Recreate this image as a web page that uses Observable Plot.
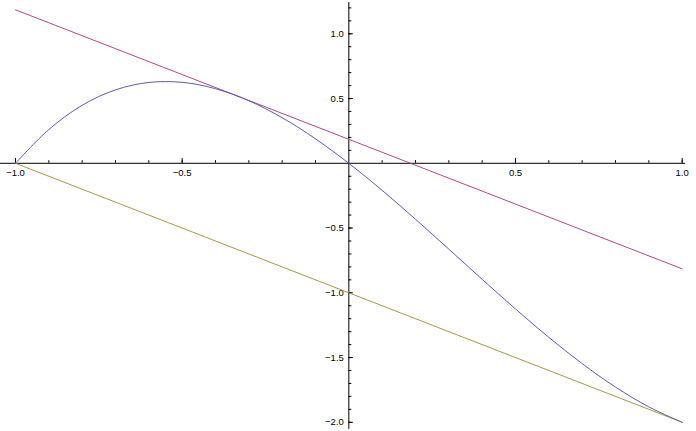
<!DOCTYPE html>
<html><head><meta charset="utf-8">
<script src="https://cdn.jsdelivr.net/npm/d3@7"></script>
<script src="https://cdn.jsdelivr.net/npm/@observablehq/plot@0.6"></script>
<style>body{margin:0;background:#fff}#chart svg{display:block}</style>
</head><body><div id="chart"></div>
<script>
// Curve values
const xValues = [-1, -0.9, -0.8, -0.7, -0.6, -0.5, -0.4, -0.3, -0.2, -0.1, 0, 0.1, 0.2, 0.3, 0.4, 0.5, 0.6, 0.7, 0.8, 0.9, 1];
const curveValues = [0, 0.261, 0.448, 0.567, 0.624, 0.625, 0.576, 0.483, 0.352, 0.189, 0, -0.209, -0.432, -0.663, -0.896, -1.125, -1.344, -1.547, -1.728, -1.881, -2];
const tangentX = [-1, 1];
const tangentValues = [1.185, -0.815];
const secantX = [-1, 1];
const secantValues = [0, -2];

// Ticks
const xMinorTicks = [-1.0,-0.9,-0.8,-0.7,-0.6,-0.5,-0.4,-0.3,-0.2,-0.1,0.1,0.2,0.3,0.4,0.5,0.6,0.7,0.8,0.9,1.0];
const xMajorTicks = [-1, -0.5, 0.5, 1];
const xTickLabels = ["\u22121.0", "\u22120.5", "0.5", "1.0"];
const yMinorTicks = [-2.0,-1.9,-1.8,-1.7,-1.6,-1.5,-1.4,-1.3,-1.2,-1.1,-1.0,-0.9,-0.8,-0.7,-0.6,-0.5,-0.4,-0.3,-0.2,-0.1,0.1,0.2,0.3,0.4,0.5,0.6,0.7,0.8,0.9,1.0,1.1,1.2];
const yMajorTicks = [-2, -1.5, -1, -0.5, 0.5, 1];
const yTickLabels = ["\u22122.0", "\u22121.5", "\u22121.0", "\u22120.5", "0.5", "1.0"];

const curve = xValues.map((x, i) => ({x, y: curveValues[i]}));
const tangent = tangentX.map((x, i) => ({x, y: tangentValues[i]}));
const secant = secantX.map((x, i) => ({x, y: secantValues[i]}));

const pxY = 129.5, pxX = 333.35;
const font = "'Liberation Sans', Arial, sans-serif";

const chart = Plot.plot({
  width: 696, height: 431,
  marginLeft: 0, marginRight: 0, marginTop: 0, marginBottom: 0,
  x: {domain: [-1.045, 1.043], axis: null},
  y: {domain: [-2.071, 1.257], axis: null},
  style: {background: "#fff", fontFamily: font},
  marks: [
    Plot.ruleY([0], {x1: -1.045, x2: 1.01, stroke: "#000", strokeWidth: 1}),
    Plot.ruleX([0], {y1: -2.054, y2: 1.241, stroke: "#000", strokeWidth: 1}),
    Plot.ruleX(xMinorTicks, {x: d => d, y1: 0, y2: 2.6 / pxY, stroke: "#000"}),
    Plot.ruleX(xMajorTicks, {x: d => d, y1: 0, y2: 4.7 / pxY, stroke: "#000"}),
    Plot.ruleY(yMinorTicks, {y: d => d, x1: 0, x2: 3 / pxX, stroke: "#000"}),
    Plot.ruleY(yMajorTicks, {y: d => d, x1: 0, x2: 4.5 / pxX, stroke: "#000"}),
    Plot.text(xMajorTicks, {x: d => d, y: 0, dy: 10, text: (d, i) => xTickLabels[i], fontSize: 9.5, fontFamily: font, fill: "#000"}),
    Plot.text(yMajorTicks, {x: 0, y: d => d, dx: -5, text: (d, i) => yTickLabels[i], textAnchor: "end", fontSize: 9.5, fontFamily: font, fill: "#000"}),
    Plot.line(secant, {x: "x", y: "y", stroke: "#a69a45", strokeWidth: 1}),
    Plot.line(tangent, {x: "x", y: "y", stroke: "#b04a88", strokeWidth: 1}),
    Plot.line(curve, {x: "x", y: "y", curve: "catmull-rom", stroke: "#5a5abd", strokeWidth: 1})
  ]
});
document.getElementById("chart").appendChild(chart);
</script>
</body></html>
